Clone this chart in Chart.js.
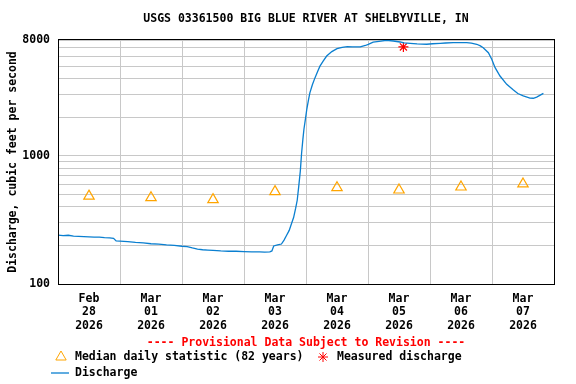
<!DOCTYPE html>
<html>
<head>
<meta charset="utf-8">
<script src="https://cdn.jsdelivr.net/npm/chart.js@4/dist/chart.umd.min.js"></script>
<style>
  html, body { margin: 0; padding: 0; background: #fff; }
  #wrap { width: 576px; height: 384px; }
</style>
</head>
<body>
<div id="wrap"><canvas id="hydrograph" width="576" height="384"></canvas></div>
<script>
// hours since Feb 28 2026 00:00, discharge in cfs
const hours = [0, 2, 4, 6, 8, 10, 12, 14, 16, 18, 20, 21.5, 22.5, 24, 27, 30, 33, 36, 39, 42, 45, 48, 50, 52, 54, 56, 58, 60, 63, 66, 69, 72, 75, 78, 80, 82, 82.8, 83.5, 85, 86.5, 87.5, 88.5, 89.5, 90.5, 91.2, 92, 92.6, 93.2, 93.8, 94.3, 94.8, 95.2, 95.8, 96.3, 97, 97.5, 98.5, 99.5, 100.5, 101.4, 102.7, 104, 106, 108, 110, 112, 114, 117, 119, 120.1, 122, 125, 127.2, 129.8, 132.4, 134, 136.3, 139, 142.7, 145, 147.9, 150, 153, 156, 158.2, 160, 162.1, 163.5, 164.6, 166.6, 167.9, 169.2, 171.1, 173.7, 176.3, 178, 180.1, 182.7, 184, 185.3, 186.5, 187.9];
const discharge = [241, 238, 240, 236, 235, 234, 233, 232, 232, 230, 229, 227, 217, 216, 214, 211, 209, 206, 205, 202, 200, 197, 196, 191, 187, 185, 184, 183, 181, 180, 180, 179, 178, 178, 177, 178, 181, 198, 202, 205, 220, 240, 262, 300, 330, 390, 450, 580, 760, 1050, 1350, 1610, 1950, 2300, 2750, 3100, 3600, 4070, 4550, 5000, 5500, 6000, 6500, 6850, 7000, 7100, 7080, 7060, 7250, 7400, 7700, 7850, 7960, 7860, 7720, 7600, 7540, 7450, 7410, 7480, 7540, 7580, 7620, 7630, 7620, 7550, 7410, 7200, 6970, 6370, 5660, 4870, 4190, 3610, 3260, 3060, 2930, 2820, 2810, 2870, 2960, 3070];

// median daily statistic, plotted at noon of each day
const medianHours = [12, 36, 60, 84, 108, 132, 156, 180];
const medianValues = [485, 471, 455, 525, 564, 541, 571, 603];

const measuredHours = [133.7];
const measuredValues = [7060];

const dayLabels = [
  ['Feb', '28', '2026'], ['Mar', '01', '2026'], ['Mar', '02', '2026'], ['Mar', '03', '2026'],
  ['Mar', '04', '2026'], ['Mar', '05', '2026'], ['Mar', '06', '2026'], ['Mar', '07', '2026']
];
const yTicks = [100, 200, 300, 400, 500, 600, 700, 800, 900, 1000, 2000, 3000, 4000, 5000, 6000, 7000, 8000];
const yLabelled = [100, 1000, 8000];

const titleText = 'USGS 03361500 BIG BLUE RIVER AT SHELBYVILLE, IN';
const yTitle = 'Discharge, cubic feet per second';
const provisionalNote = '---- Provisional Data Subject to Revision ----';

const FONT = '"DejaVu Sans Mono", "Liberation Mono", monospace';
const lineBlue = '#0a7fd0';
const gridGray = '#c8c8c8';

function xy(xs, ys) {
  return xs.map((h, i) => ({ x: h, y: ys[i] }));
}

// frame, note and legend under the plot
const usgsLegend = {
  id: 'usgsLegend',
  afterDraw(chart) {
    const ctx = chart.ctx;
    const a = chart.chartArea;
    ctx.save();
    ctx.strokeStyle = '#000';
    ctx.lineWidth = 1;
    ctx.strokeRect(Math.round(a.left) + 0.5, Math.round(a.top) - 0.5, Math.round(a.right - a.left), Math.round(a.bottom - a.top) + 1);

    ctx.font = 'bold 11.5px ' + FONT;
    ctx.textBaseline = 'middle';
    ctx.textAlign = 'center';
    ctx.fillStyle = '#ff0000';
    ctx.fillText(provisionalNote, 306, 343);

    ctx.textAlign = 'left';
    // open triangle marker
    ctx.fillStyle = 'rgba(0,0,0,0)';
    ctx.strokeStyle = 'orange';
    Chart.helpers.drawPoint(ctx, { pointStyle: 'triangle', radius: 6, borderWidth: 1.2 }, 61, 357);
    ctx.fillStyle = '#000';
    ctx.fillText('Median daily statistic (82 years)', 75, 357);

    ctx.strokeStyle = 'red';
    Chart.helpers.drawPoint(ctx, { pointStyle: 'star', radius: 5, borderWidth: 1.2 }, 323, 357);
    ctx.fillStyle = '#000';
    ctx.fillText('Measured discharge', 337, 357);

    ctx.strokeStyle = lineBlue;
    ctx.lineWidth = 1.3;
    ctx.beginPath();
    ctx.moveTo(51, 373);
    ctx.lineTo(69, 373);
    ctx.stroke();
    ctx.fillText('Discharge', 75, 373);
    ctx.restore();
  }
};

new Chart(document.getElementById('hydrograph'), {
  type: 'line',
  data: {
    datasets: [
      {
        label: 'Discharge',
        data: xy(hours, discharge),
        borderColor: lineBlue,
        borderWidth: 1.3,
        pointRadius: 0,
        tension: 0,
        fill: false
      },
      {
        label: 'Median daily statistic (82 years)',
        data: xy(medianHours, medianValues),
        showLine: false,
        pointStyle: 'triangle',
        pointRadius: 6,
        pointBorderWidth: 1.2,
        pointBorderColor: 'orange',
        pointBackgroundColor: 'rgba(0,0,0,0)'
      },
      {
        label: 'Measured discharge',
        data: xy(measuredHours, measuredValues),
        showLine: false,
        pointStyle: 'star',
        pointRadius: 5,
        pointBorderWidth: 1.2,
        pointBorderColor: 'red'
      }
    ]
  },
  options: {
    responsive: false,
    animation: false,
    layout: { padding: { left: 0, right: 22, top: 0, bottom: 0 } },
    plugins: {
      legend: { display: false },
      tooltip: { enabled: false },
      title: {
        display: true,
        text: titleText,
        fullSize: false,
        color: '#000',
        font: { family: FONT, size: 11.5, weight: 'bold', lineHeight: 1.2 },
        padding: { top: 12, bottom: 14.2 }
      }
    },
    scales: {
      x: {
        type: 'linear',
        min: 0,
        max: 192,
        afterFit(s) { s.height = 100; },
        afterBuildTicks(s) {
          const t = [];
          for (let v = 0; v <= 192; v += 12) t.push({ value: v });
          s.ticks = t;
        },
        border: { display: false },
        grid: {
          drawTicks: false,
          color: c => (c.tick && c.tick.value % 24 === 0) ? gridGray : 'rgba(0,0,0,0)'
        },
        ticks: {
          autoSkip: false,
          maxRotation: 0,
          padding: 8,
          color: '#000',
          font: { family: FONT, size: 11.5, weight: 'bold', lineHeight: 1.17 },
          callback: v => (v % 24 === 12) ? dayLabels[(v - 12) / 24] : ''
        }
      },
      y: {
        type: 'logarithmic',
        min: 100,
        max: 8000,
        afterFit(s) { s.width = 58; },
        afterBuildTicks(s) { s.ticks = yTicks.map(v => ({ value: v })); },
        border: { display: false },
        grid: { drawTicks: false, color: gridGray },
        title: {
          display: true,
          text: yTitle,
          color: '#000',
          font: { family: FONT, size: 11.5, weight: 'bold', lineHeight: 1.2 },
          padding: { top: 6, bottom: 0 }
        },
        ticks: {
          autoSkip: false,
          padding: 8,
          color: '#000',
          font: { family: FONT, size: 11.5, weight: 'bold' },
          callback: v => yLabelled.includes(v) ? String(v) : ''
        }
      }
    }
  },
  plugins: [usgsLegend]
});
</script>
</body>
</html>
